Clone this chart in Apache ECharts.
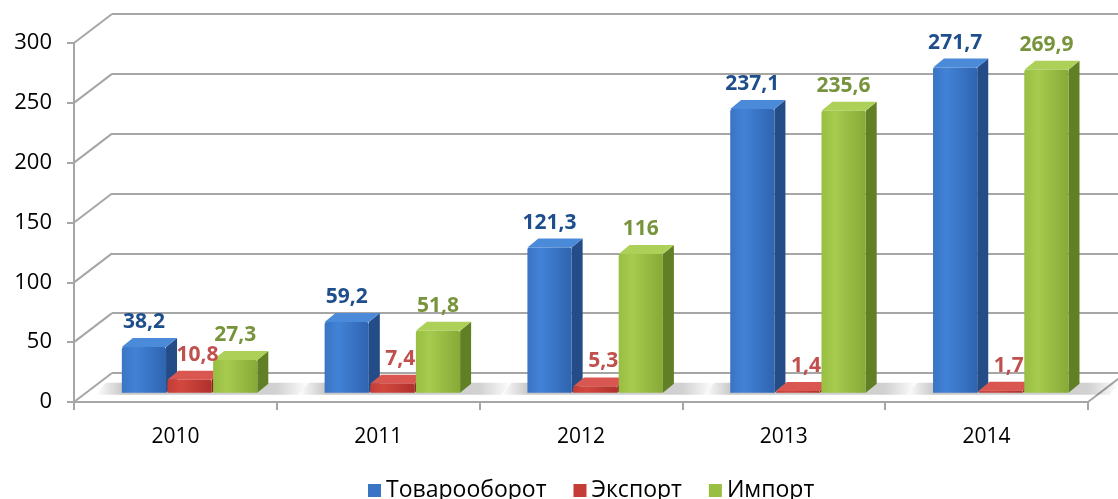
<!DOCTYPE html>
<html>
<head>
<meta charset="utf-8">
<script src="https://cdn.jsdelivr.net/npm/echarts@6/dist/echarts.min.js"></script>
<style>
html,body{margin:0;padding:0;background:#fff;}
#chart{width:1118px;height:499px;}
</style>
</head>
<body>
<div id="chart"></div>
<script>
// ---- data ----
const categories = ['2010', '2011', '2012', '2013', '2014'];
const seriesNames = ['Товарооборот', 'Экспорт', 'Импорт'];
const turnover = [38.2, 59.2, 121.3, 237.1, 271.7];
const exportVals = [10.8, 7.4, 5.3, 1.4, 1.7];
const importVals = [27.3, 51.8, 116, 235.6, 269.9];
const yTicks = [0, 50, 100, 150, 200, 250, 300];

// ---- styling / layout ----
const FONT = '"Open Sans", "Noto Sans", sans-serif';
const FRONT = { left: 74, top: 43, width: 1014, height: 359 };
const DEPTH_X = 38, DEPTH_Y = 29;      // depth of back wall
const BAR_PLANE = 0.32;                // bars stand at this fraction of depth
const SIDE_X = 11, SIDE_Y = 9;         // bar extrusion
const GRID_COLOR = '#A6A6A6';

const palettes = [
  { front: ['#4282D6', '#3A74C4', '#2F64B0'], side: '#244C86', top: '#4A8AD8', label: '#1F4E8C' },
  { front: ['#D2483F', '#C43C36', '#B0302C'], side: '#86241F', top: '#DA5650', label: '#C0504D' },
  { front: ['#A6CB4E', '#98BE42', '#86AA36'], side: '#617F24', top: '#ACD058', label: '#77933C' }
];
const seriesData = [turnover, exportVals, importVals];
const labelShift = [0, 8, 0];

function fmt(v) { return String(v).replace('.', ','); }

function barGeom(api, si) {
  const ci = api.value(0);
  const catW = api.size([1, 0])[0];
  const base = api.coord([ci, 0]);
  const bw = catW * 0.218, gap = catW * 0.007;
  const x0 = base[0] - (3 * bw + 2 * gap) / 2 + 2 + si * (bw + gap);
  return { x0: x0, x1: x0 + bw, bw: bw, y0: base[1], catW: catW, cx: base[0] };
}

function makeBarRender(si) {
  const p = palettes[si];
  return function (params, api) {
    const v = api.value(1);
    const g = barGeom(api, si);
    const topY = api.coord([api.value(0), v])[1];
    const x0 = g.x0, x1 = g.x1, y0 = g.y0;
    const frontGrad = new echarts.graphic.LinearGradient(0, 0, 1, 0, [
      { offset: 0, color: p.front[1] }, { offset: 0.3, color: p.front[0] }, { offset: 1, color: p.front[2] }
    ]);
    return {
      type: 'group',
      children: [
        { type: 'polygon', z2: si * 10 + 1,
          shape: { points: [[x1, topY], [x1 + SIDE_X, topY - SIDE_Y], [x1 + SIDE_X, y0 - SIDE_Y], [x1, y0]] },
          style: { fill: p.side } },
        { type: 'polygon', z2: si * 10 + 2,
          shape: { points: [[x0, topY], [x0 + SIDE_X, topY - SIDE_Y], [x1 + SIDE_X, topY - SIDE_Y], [x1, topY]] },
          style: { fill: p.top } },
        { type: 'rect', z2: si * 10 + 3,
          shape: { x: x0, y: topY, width: g.bw, height: y0 - topY, r: [2, 2, 0, 0] },
          style: { fill: frontGrad } },
        { type: 'text', z2: 200,
          style: {
            text: fmt(v), x: (x0 + x1) / 2 + labelShift[si], y: topY - SIDE_Y - 16,
            align: 'center', verticalAlign: 'middle',
            fill: p.label, font: 'bold 21px ' + FONT
          } }
      ]
    };
  };
}

function shadowRender(params, api) {
  const g0 = barGeom(api, 0), g2 = barGeom(api, 2);
  const l = g0.x0 - 26, r = g2.x1 + SIDE_X + 30, y0 = g0.y0;
  const w = r - l;
  const grad = new echarts.graphic.LinearGradient(0, 0, 1, 0, [
    { offset: 0, color: 'rgba(0,0,0,0)' },
    { offset: 26 / w, color: 'rgba(0,0,0,0.22)' },
    { offset: 1 - 30 / w, color: 'rgba(0,0,0,0.18)' },
    { offset: 1, color: 'rgba(0,0,0,0)' }
  ]);
  return {
    type: 'polygon',
    shape: { points: [[l, y0 + 2], [r, y0 + 2], [r + 10, y0 - 10], [l + 10, y0 - 10]] },
    style: { fill: grad }
  };
}

function diagRender(params, api) {
  const cs = params.coordSys;
  const y = api.coord([0, api.value(1)])[1];
  const children = [{
    type: 'line',
    shape: { x1: cs.x, y1: y, x2: cs.x + DEPTH_X, y2: y - DEPTH_Y },
    style: { stroke: GRID_COLOR, lineWidth: 2 }
  }];
  if (api.value(1) === 0) {
    children.push({
      type: 'line',
      shape: { x1: cs.x + cs.width, y1: y, x2: cs.x + cs.width + DEPTH_X, y2: y - DEPTH_Y },
      style: { stroke: GRID_COLOR, lineWidth: 2 }
    });
  }
  return { type: 'group', children: children };
}

const chart = echarts.init(document.getElementById('chart'), null, { renderer: 'canvas' });

const grids = [
  { left: FRONT.left, top: FRONT.top, width: FRONT.width, height: FRONT.height },
  { left: FRONT.left + DEPTH_X, top: FRONT.top - DEPTH_Y, width: FRONT.width, height: FRONT.height },
  { left: FRONT.left + DEPTH_X * BAR_PLANE, top: FRONT.top - DEPTH_Y * BAR_PLANE, width: FRONT.width, height: FRONT.height }
];

const yBase = { type: 'value', min: 0, max: 300, interval: 50 };

const barSeries = seriesNames.map(function (name, si) {
  return {
    name: name, type: 'custom', xAxisIndex: 2, yAxisIndex: 2, z: 5,
    itemStyle: { color: palettes[si].front[1] },
    data: seriesData[si].map(function (v, i) { return [i, v]; }),
    renderItem: makeBarRender(si),
    clip: false
  };
});

chart.setOption({
  animation: false,
  backgroundColor: '#fff',
  grid: grids,
  legend: {
    left: 363, top: 474,
    icon: 'rect', itemWidth: 13, itemHeight: 13, itemGap: 27,
    textStyle: { fontSize: 23, color: '#000', fontFamily: FONT },
    data: seriesNames.map(function (n, i) { return { name: n, itemStyle: { color: palettes[i].front[1] } }; })
  },
  xAxis: [
    { gridIndex: 0, type: 'category', data: categories, boundaryGap: true,
      axisLine: { lineStyle: { color: GRID_COLOR, width: 2 } },
      axisTick: { show: true, length: 8, lineStyle: { color: GRID_COLOR, width: 2 } },
      axisLabel: { fontSize: 21, color: '#000', fontFamily: FONT, margin: 25 } },
    { gridIndex: 1, type: 'category', data: categories, show: false },
    { gridIndex: 2, type: 'category', data: categories, show: false }
  ],
  yAxis: [
    Object.assign({ gridIndex: 0 }, yBase, {
      axisLine: { show: true, lineStyle: { color: GRID_COLOR, width: 2 } },
      axisTick: { show: true, length: 7, lineStyle: { color: GRID_COLOR, width: 2 } },
      axisLabel: { fontSize: 22, color: '#000', fontFamily: FONT, margin: 22 },
      splitLine: { show: false }
    }),
    Object.assign({ gridIndex: 1 }, yBase, {
      axisLine: { show: false }, axisTick: { show: false }, axisLabel: { show: false },
      splitLine: { show: true, lineStyle: { color: GRID_COLOR, width: 2 } }
    }),
    Object.assign({ gridIndex: 2 }, yBase, { show: false, splitLine: { show: false } })
  ],
  series: [
    { type: 'custom', name: 'diag', xAxisIndex: 0, yAxisIndex: 0, z: 1, silent: true, clip: false,
      data: yTicks.map(function (t) { return [0, t]; }), renderItem: diagRender },
    { type: 'custom', name: 'shadow', xAxisIndex: 2, yAxisIndex: 2, z: 2, silent: true, clip: false,
      data: categories.map(function (c, i) { return [i, 0]; }), renderItem: shadowRender }
  ].concat(barSeries)
});
</script>
</body>
</html>
